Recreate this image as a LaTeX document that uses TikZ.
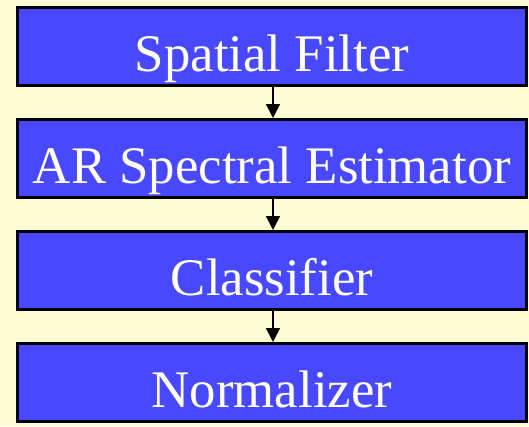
\documentclass[tikz,border=0pt]{standalone}
\usepackage{fontspec}
\setmainfont{Liberation Serif}
\usetikzlibrary{arrows.meta}
\definecolor{bgyellow}{RGB}{255,251,210}
\definecolor{boxblue}{RGB}{72,72,255}
\tikzset{
  stagebox/.style={draw=black, line width=3bp, fill=boxblue, text=white,
    minimum width=509bp, minimum height=78bp, inner sep=0pt,
    text height=50bp, text depth=0bp,
    font=\fontsize{53}{60}\selectfont},
  flowarrow/.style={line width=1.8bp, -{Triangle[length=14bp,width=14bp]}}
}
\begin{document}
\begin{tikzpicture}[x=1bp,y=-1bp]
  \fill[bgyellow] (0,0) rectangle (529,426);
  \useasboundingbox (0,0) rectangle (529,426);
  \node[stagebox] (s1) at (272,46.5) {Spatial Filter};
  \node[stagebox] (s2) at (272,158.5) {AR Spectral Estimator};
  \node[stagebox] (s3) at (272,270.5) {Classifier};
  \node[stagebox] (s4) at (272,382.5) {Normalizer};
  \draw[flowarrow] (s1.south -| 273,0) -- (s2.north -| 273,0);
  \draw[flowarrow] (s2.south -| 273,0) -- (s3.north -| 273,0);
  \draw[flowarrow] (s3.south -| 273,0) -- (s4.north -| 273,0);
\end{tikzpicture}
\end{document}
